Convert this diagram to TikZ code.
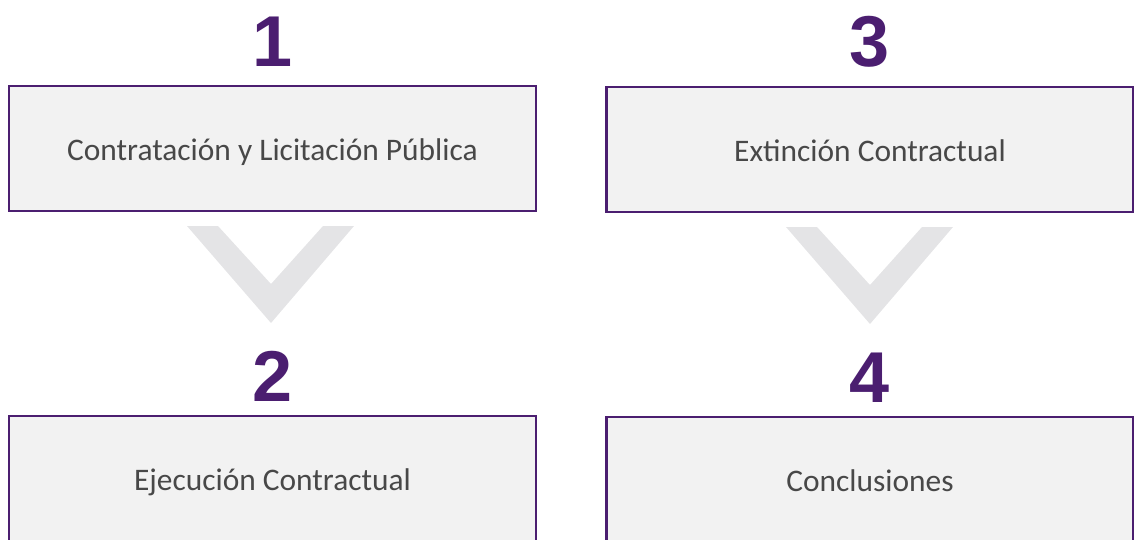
\documentclass[tikz,border=0pt]{standalone}
\usepackage{fontspec}
\setmainfont{Carlito}
\newfontfamily\numfont{Liberation Sans}
\usetikzlibrary{positioning}
\definecolor{morado}{RGB}{75,30,112}
\definecolor{fondo}{RGB}{242,242,242}
\definecolor{chevron}{RGB}{228,228,230}
\definecolor{texto}{RGB}{72,72,72}
\tikzstyle{etapa} = [rectangle, minimum width=527pt, minimum height=125pt, text centered, text height=31pt, text depth=8pt, draw=morado, line width=2.2pt, fill=fondo, text=texto, font=\fontsize{31.4}{34}\selectfont]
\tikzstyle{numero} = [inner sep=0pt, text=morado, font=\numfont\bfseries\fontsize{72}{72}\selectfont]
\tikzstyle{bajada} = [fill=chevron]

\begin{document}
\begin{tikzpicture}[x=1pt,y=-1pt]
	\useasboundingbox (0,0) rectangle (1134,539);

	\node (contratacion) [etapa] at (272.5,148.5) {Contratación y Licitación Pública};
	\node (ejecucion) [etapa] at (272.5,478.5) {Ejecución Contractual};
	\node (extincion) [etapa] at (870,149.5) {Extinción Contractual};
	\node (conclusiones) [etapa] at (870,479.5) {Conclusiones};

	\node (n1) [numero, above=18pt of contratacion] {1};
	\node (n2) [numero, above=13pt of ejecucion] {2};
	\node (n3) [numero, above=18pt of extincion] {3};
	\node (n4) [numero, above=13pt of conclusiones] {4};

	% chevrons between the steps
	\fill [bajada] (187,226) -- (218,226) -- (271,284) -- (323,226) -- (354,226) -- (271,323) -- cycle;
	\fill [bajada] (786,227) -- (817,227) -- (870,285) -- (922,227) -- (953,227) -- (870,324) -- cycle;

\end{tikzpicture}
\end{document}
